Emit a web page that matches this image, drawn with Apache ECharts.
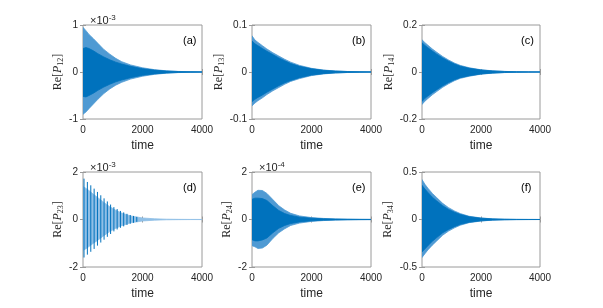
<!DOCTYPE html>
<html>
<head>
<meta charset="utf-8">
<script src="https://cdn.jsdelivr.net/npm/echarts@6/dist/echarts.min.js"></script>
<style>html,body{margin:0;padding:0;background:#fff}#c{width:603px;height:308px}</style>
</head>
<body>
<div id="c"></div>
<script>
// ---- data (panel y values in the panel's ×10^k units) ----
const T = [0,100,200,350,500,700,900,1100,1300,1600,2000,2400,2800,3200,3600,4000];
const xTicks = [0,2000,4000];

// (a) Re[P12], ×10^-3
const aHi   = [0.95,0.88,0.80,0.71,0.61,0.48,0.38,0.29,0.22,0.15,0.09,0.05,0.025,0.012,0.006,0.003];
const aLo   = [-0.90,-0.85,-0.78,-0.68,-0.58,-0.46,-0.36,-0.28,-0.22,-0.15,-0.09,-0.05,-0.025,-0.012,-0.006,-0.003];
const aInHi = [0.50,0.52,0.50,0.45,0.39,0.32,0.26,0.21,0.17,0.12,0.07,0.04,0.02,0.01,0.005,0.002];
const aInLo = [-0.52,-0.53,-0.50,-0.45,-0.39,-0.32,-0.26,-0.21,-0.17,-0.12,-0.07,-0.04,-0.02,-0.01,-0.005,-0.002];

// (b) Re[P13]
const bHi   = [0.077,0.068,0.063,0.056,0.049,0.041,0.034,0.027,0.021,0.014,0.0078,0.0042,0.0022,0.0011,0.0006,0.0003];
const bLo   = [-0.072,-0.066,-0.061,-0.055,-0.048,-0.040,-0.033,-0.026,-0.020,-0.014,-0.0076,-0.0041,-0.0021,-0.0011,-0.0006,-0.0003];
const bInHi = [0.066,0.060,0.056,0.050,0.044,0.037,0.030,0.024,0.018,0.012,0.0068,0.0036,0.0019,0.0010,0.0005,0.0002];
const bInLo = [-0.063,-0.058,-0.054,-0.049,-0.043,-0.036,-0.029,-0.023,-0.018,-0.012,-0.0066,-0.0035,-0.0018,-0.0010,-0.0005,-0.0002];

// (c) Re[P14]
const cHi   = [0.137,0.125,0.114,0.098,0.084,0.066,0.051,0.038,0.028,0.018,0.0095,0.005,0.0025,0.0012,0.0006,0.0003];
const cLo   = [-0.138,-0.124,-0.113,-0.097,-0.083,-0.065,-0.050,-0.037,-0.027,-0.018,-0.0093,-0.0049,-0.0024,-0.0012,-0.0006,-0.0003];
const cInHi = [0.124,0.113,0.103,0.089,0.076,0.060,0.046,0.034,0.025,0.016,0.0085,0.0045,0.0022,0.0011,0.0005,0.0002];
const cInLo = [-0.125,-0.112,-0.102,-0.088,-0.075,-0.059,-0.045,-0.033,-0.024,-0.016,-0.0083,-0.0044,-0.0021,-0.0011,-0.0005,-0.0002];

// (d) Re[P23], ×10^-3 : light carrier band + distinct beat spikes
const dHi   = [1.39,1.31,1.22,1.06,0.92,0.72,0.54,0.39,0.27,0.15,0.065,0.03,0.013,0.006,0.003,0.002];
const dLo   = [-1.30,-1.23,-1.14,-1.00,-0.87,-0.68,-0.51,-0.37,-0.26,-0.14,-0.062,-0.028,-0.012,-0.006,-0.003,-0.002];
const dSpikeT  = [34,147,262,374,486,598,708,818,928,1038,1148,1258,1368,1478,1588,1698,1808];
const dSpikeHi = [1.72,1.58,1.44,1.30,1.16,1.02,0.89,0.76,0.63,0.52,0.44,0.36,0.30,0.24,0.19,0.15,0.11];
const dSpikeLo = [-1.60,-1.48,-1.36,-1.24,-1.10,-0.97,-0.85,-0.73,-0.61,-0.50,-0.42,-0.35,-0.29,-0.23,-0.18,-0.14,-0.10];

// (e) Re[P24], ×10^-4
const eHi   = [1.05,1.15,1.23,1.22,1.10,0.84,0.58,0.40,0.26,0.15,0.08,0.045,0.025,0.013,0.007,0.004];
const eLo   = [-1.10,-1.15,-1.22,-1.20,-1.08,-0.80,-0.56,-0.39,-0.25,-0.15,-0.08,-0.045,-0.025,-0.013,-0.007,-0.004];
const eInHi = [0.85,0.90,0.90,0.88,0.80,0.58,0.38,0.25,0.17,0.10,0.055,0.03,0.017,0.009,0.005,0.003];
const eInLo = [-0.85,-0.90,-0.90,-0.86,-0.78,-0.56,-0.37,-0.25,-0.17,-0.10,-0.055,-0.03,-0.017,-0.009,-0.005,-0.003];

// (f) Re[P34]
const fHi   = [0.42,0.37,0.33,0.275,0.23,0.17,0.125,0.09,0.062,0.034,0.016,0.007,0.003,0.0013,0.0006,0.0003];
const fLo   = [-0.40,-0.36,-0.32,-0.27,-0.225,-0.165,-0.122,-0.088,-0.060,-0.033,-0.016,-0.007,-0.003,-0.0013,-0.0006,-0.0003];
const fInHi = [0.36,0.32,0.285,0.235,0.195,0.145,0.106,0.077,0.053,0.029,0.014,0.006,0.0026,0.0011,0.0005,0.0002];
const fInLo = [-0.34,-0.31,-0.275,-0.23,-0.19,-0.14,-0.104,-0.075,-0.051,-0.028,-0.014,-0.006,-0.0026,-0.0011,-0.0005,-0.0002];

// y ranges / tick steps
const yMin  = [-1,-0.1,-0.2,-2,-2,-0.5];
const yMax  = [1,0.1,0.2,2,2,0.5];
const yStep = [1,0.1,0.2,2,2,0.5];
const subs  = ['12','13','14','23','24','34'];
const exps  = ['-3',null,null,'-3','-4',null];
const tags  = ['(a)','(b)','(c)','(d)','(e)','(f)'];

// ---- layout / style ----
const DARK = '#0072BD', LIGHT = '#4f9ad3', PALE = '#8fbfe6';
const AX = '#9a9a9a', TXT = '#262626';
const lefts = [83,252,422], widths = [119,119,118];
const tops = [25,172], heights = [94,95];
const nameGaps = [15,10,20,17,17,27];

const panels = [
  {bands:[[aHi,aLo,LIGHT],[aInHi,aInLo,DARK]]},
  {bands:[[bHi,bLo,LIGHT],[bInHi,bInLo,DARK]]},
  {bands:[[cHi,cLo,LIGHT],[cInHi,cInLo,DARK]]},
  {bands:[[dHi,dLo,PALE]], spikes:[dSpikeT,dSpikeHi,dSpikeLo]},
  {bands:[[eHi,eLo,LIGHT],[eInHi,eInLo,DARK]]},
  {bands:[[fHi,fLo,LIGHT],[fInHi,fInLo,DARK]]}
];

const plain = v => String(Math.round(v * 1e6) / 1e6);

const grid = [], xAxis = [], yAxis = [], series = [], title = [];
panels.forEach((p, i) => {
  const col = i % 3, row = Math.floor(i / 3);
  const L = lefts[col], W = widths[col], Tp = tops[row], H = heights[row];
  grid.push({left:L, top:Tp, width:W, height:H, show:true, borderColor:AX, borderWidth:1, backgroundColor:'#fff'});
  const tick = {show:true, inside:true, length:3, lineStyle:{color:AX, width:1}};
  xAxis.push({type:'value', gridIndex:i, min:xTicks[0], max:xTicks[2], interval:xTicks[1], position:'bottom',
    axisLine:{show:false}, axisTick:tick, splitLine:{show:false},
    axisLabel:{fontFamily:'Liberation Sans', fontSize:10, color:TXT, margin:6, formatter:plain},
    name:'time', nameLocation:'middle', nameGap:21,
    nameTextStyle:{fontFamily:'Liberation Sans', fontSize:12, color:TXT}});
  xAxis.push({type:'value', gridIndex:i, min:xTicks[0], max:xTicks[2], interval:xTicks[1], position:'top',
    axisLine:{show:false}, axisTick:tick, splitLine:{show:false}, axisLabel:{show:false}});
  yAxis.push({type:'value', gridIndex:i, min:yMin[i], max:yMax[i], interval:yStep[i], position:'left',
    axisLine:{show:false}, axisTick:tick, splitLine:{show:false},
    axisLabel:{fontFamily:'Liberation Sans', fontSize:10, color:TXT, margin:5, formatter:plain},
    name:'{r|Re[}{p|P}{s|' + subs[i] + '}{r|]}', nameLocation:'middle', nameGap:nameGaps[i],
    nameTextStyle:{fontFamily:'Liberation Serif', fontSize:12, color:TXT,
      rich:{r:{fontFamily:'Liberation Serif', fontSize:12, lineHeight:14, color:TXT},
            p:{fontFamily:'Liberation Serif', fontStyle:'italic', fontSize:12, lineHeight:14, color:TXT},
            s:{fontFamily:'Liberation Serif', fontSize:8, lineHeight:8, verticalAlign:'bottom', color:TXT}}}});
  yAxis.push({type:'value', gridIndex:i, min:yMin[i], max:yMax[i], interval:yStep[i], position:'right',
    axisLine:{show:false}, axisTick:tick, splitLine:{show:false}, axisLabel:{show:false}});

  p.bands.forEach(([hi, lo, color]) => {
    series.push({type:'custom', xAxisIndex:2*i, yAxisIndex:2*i, data:[0], clip:true, silent:true,
      renderItem:(params, api) => {
        const pts = [];
        for (let k = 0; k < T.length; k++) pts.push(api.coord([T[k], hi[k]]));
        for (let k = T.length - 1; k >= 0; k--) pts.push(api.coord([T[k], lo[k]]));
        return {type:'polygon', shape:{points:pts}, style:{fill:color, stroke:color, lineWidth:0.8}};
      }});
  });
  if (p.spikes) {
    const [st, sh, sl] = p.spikes;
    series.push({type:'custom', xAxisIndex:2*i, yAxisIndex:2*i, clip:true, silent:true,
      data: st.map((t, k) => [t, sh[k], sl[k]]),
      renderItem:(params, api) => {
        const a = api.coord([api.value(0), api.value(1)]);
        const b = api.coord([api.value(0), api.value(2)]);
        return {type:'line', shape:{x1:a[0], y1:a[1], x2:b[0], y2:b[1]}, style:{stroke:DARK, lineWidth:1}};
      }});
  }
  title.push({text:tags[i], left:L + W - 24, top:Tp + 5,
    textStyle:{fontFamily:'Liberation Sans', fontSize:11, fontWeight:'normal', color:'#000'}});
  if (exps[i]) {
    title.push({text:'×10{s|' + exps[i] + '}', left:L + 2, top:Tp - 16,
      textStyle:{fontFamily:'Liberation Sans', fontSize:11, fontWeight:'normal', color:TXT, lineHeight:14,
        rich:{s:{fontFamily:'Liberation Sans', fontSize:8, lineHeight:8, verticalAlign:'top', color:TXT}}}});
  }
});

const chart = echarts.init(document.getElementById('c'), null, {renderer:'canvas'});
chart.setOption({animation:false, backgroundColor:'#fff', title, grid, xAxis, yAxis, series});
</script>
</body>
</html>
